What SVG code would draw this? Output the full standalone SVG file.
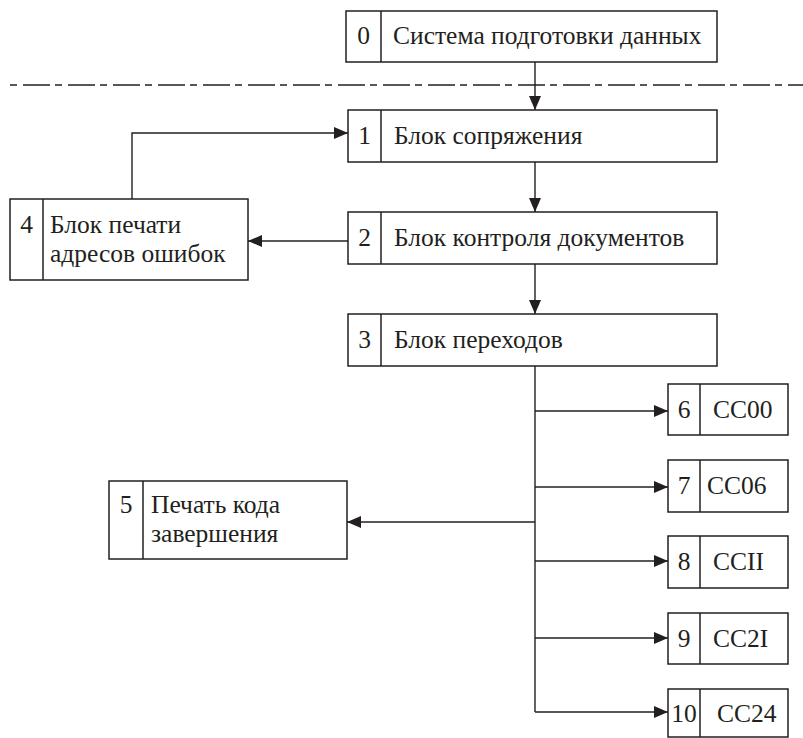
<svg xmlns="http://www.w3.org/2000/svg" width="803" height="738" viewBox="0 0 803 738">
<defs>
<style>
.box{fill:#fff;stroke:#231f20;stroke-width:1.5}
.div{stroke:#231f20;stroke-width:1.5}
text{font-family:'Liberation Serif','DejaVu Serif',serif;font-size:25.5px;fill:#231f20}
.n{text-anchor:middle}
.c{fill:none;stroke:#231f20;stroke-width:1.4}
</style>
<marker id="ah" markerUnits="userSpaceOnUse" markerWidth="14" markerHeight="12" refX="14" refY="6" orient="auto">
<path d="M0,0 L14,6 L0,12 Z" fill="#231f20"/>
</marker>
</defs>
<line x1="10" y1="85" x2="803" y2="85" stroke="#231f20" stroke-width="1.3" stroke-dasharray="7 6 27 5"/>
<g id="connectors">
<path class="c" d="M535,62 V110" marker-end="url(#ah)"/>
<path class="c" d="M535,162 V212" marker-end="url(#ah)"/>
<path class="c" d="M535,264 V314" marker-end="url(#ah)"/>
<path class="c" d="M348,241 H248" marker-end="url(#ah)"/>
<path class="c" d="M132,199 V133 H348" marker-end="url(#ah)"/>
<path class="c" d="M535,366 V712"/>
<path class="c" d="M535,411 H668" marker-end="url(#ah)"/>
<path class="c" d="M535,487 H668" marker-end="url(#ah)"/>
<path class="c" d="M535,561 H668" marker-end="url(#ah)"/>
<path class="c" d="M535,638 H668" marker-end="url(#ah)"/>
<path class="c" d="M535,712 H668" marker-end="url(#ah)"/>
<path class="c" d="M535,522 H347" marker-end="url(#ah)"/>
</g>
<g id="node0">
<rect class="box" x="346" y="11" width="371" height="51"/>
<line class="div" x1="381" y1="11" x2="381" y2="62"/>
<text class="n" x="363.5" y="44">0</text>
<text x="393" y="44">Система подготовки данных</text>
</g>
<g id="node1">
<rect class="box" x="348" y="110" width="369" height="52"/>
<line class="div" x1="381" y1="110" x2="381" y2="162"/>
<text class="n" x="364.5" y="144">1</text>
<text x="394" y="144">Блок сопряжения</text>
</g>
<g id="node2">
<rect class="box" x="348" y="212" width="369" height="52"/>
<line class="div" x1="381" y1="212" x2="381" y2="264"/>
<text class="n" x="364.5" y="246">2</text>
<text x="394" y="246">Блок контроля документов</text>
</g>
<g id="node3">
<rect class="box" x="348" y="314" width="369" height="52"/>
<line class="div" x1="381" y1="314" x2="381" y2="366"/>
<text class="n" x="364.5" y="348">3</text>
<text x="394" y="348">Блок переходов</text>
</g>
<g id="node4">
<rect class="box" x="10" y="199" width="238" height="81"/>
<line class="div" x1="43" y1="199" x2="43" y2="280"/>
<text class="n" x="26.5" y="233">4</text>
<text x="50" y="233">Блок печати</text>
<text x="50" y="262">адресов ошибок</text>
</g>
<g id="node5">
<rect class="box" x="109" y="481" width="238" height="78"/>
<line class="div" x1="143" y1="481" x2="143" y2="559"/>
<text class="n" x="126" y="513">5</text>
<text x="151" y="513">Печать кода</text>
<text x="151" y="542">завершения</text>
</g>
<g id="node6">
<rect class="box" x="668" y="384" width="120" height="51"/>
<line class="div" x1="700" y1="384" x2="700" y2="435"/>
<text class="n" x="684" y="418">6</text>
<text x="713" y="418">CC00</text>
</g>
<g id="node7">
<rect class="box" x="668" y="460" width="120" height="52"/>
<line class="div" x1="700" y1="460" x2="700" y2="512"/>
<text class="n" x="684" y="494">7</text>
<text x="707" y="494">CC06</text>
</g>
<g id="node8">
<rect class="box" x="668" y="536" width="120" height="52"/>
<line class="div" x1="700" y1="536" x2="700" y2="588"/>
<text class="n" x="684" y="570">8</text>
<text x="713" y="570">CCII</text>
</g>
<g id="node9">
<rect class="box" x="668" y="613" width="120" height="51"/>
<line class="div" x1="700" y1="613" x2="700" y2="664"/>
<text class="n" x="684" y="647">9</text>
<text x="713" y="647">CC2I</text>
</g>
<g id="node10">
<rect class="box" x="668" y="689" width="120" height="48"/>
<line class="div" x1="700" y1="689" x2="700" y2="737"/>
<text class="n" x="684" y="722">10</text>
<text x="717" y="722">CC24</text>
</g>
</svg>
